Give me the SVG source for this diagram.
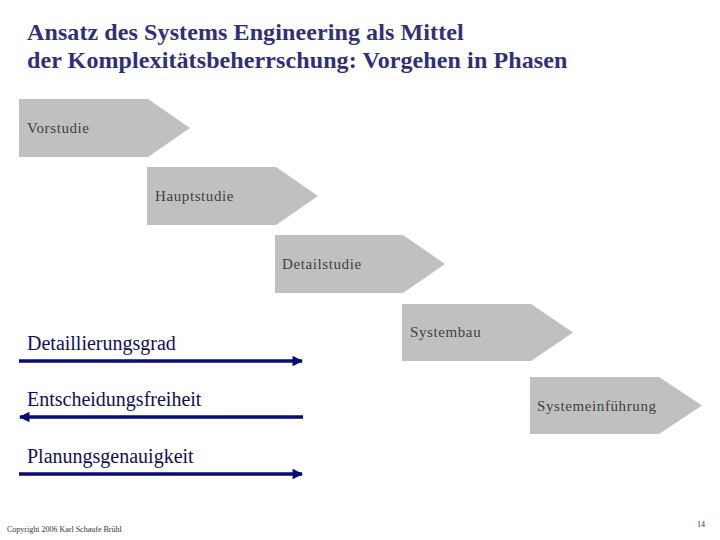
<svg xmlns="http://www.w3.org/2000/svg" width="720" height="540" viewBox="0 0 720 540">
<style>
.title{font-family:"Liberation Serif","DejaVu Serif",serif;font-weight:bold;font-size:24px;letter-spacing:0.1px;fill:#30307a}
.phase{fill:#c0c0c0}
.pt{font-family:"Liberation Serif","DejaVu Serif",serif;font-size:15px;letter-spacing:0.6px;fill:#404040}
.lbl{font-family:"Liberation Serif","DejaVu Serif",serif;font-size:20px;fill:#10105a}
.ln{stroke:#0a0a78;stroke-width:3.5;fill:none}
.small{font-family:"Liberation Serif","DejaVu Serif",serif;font-size:8px;fill:#333}
</style>
<defs>
<marker id="ah" viewBox="0 0 10 10" refX="9" refY="5" markerWidth="3.2" markerHeight="3" orient="auto-start-reverse" markerUnits="strokeWidth">
<path d="M0,0 L10,5 L0,10 z" fill="#0a0a78"/>
</marker>
</defs>
<rect width="720" height="540" fill="#fff"/>
<text class="title" x="27" y="40">Ansatz des Systems Engineering als Mittel</text>
<text class="title" x="27" y="68">der Komplexitätsbeherrschung: Vorgehen in Phasen</text>
<g id="vorstudie"><path class="phase" d="M19,99 H148 L190,128 L148,157 H19 Z"/><text class="pt" x="27" y="133">Vorstudie</text></g>
<g id="hauptstudie"><path class="phase" d="M147,167 H276 L318,196 L276,225 H147 Z"/><text class="pt" x="155" y="201">Hauptstudie</text></g>
<g id="detailstudie"><path class="phase" d="M275,235 H403 L445,264 L403,293 H275 Z"/><text class="pt" x="282" y="269">Detailstudie</text></g>
<g id="systembau"><path class="phase" d="M402,304 H531 L573,332.5 L531,361 H402 Z"/><text class="pt" x="410" y="337">Systembau</text></g>
<g id="systemeinfuehrung"><path class="phase" d="M530,377 H659 L702,405.5 L659,434 H530 Z"/><text class="pt" x="537" y="411">Systemeinführung</text></g>
<g id="connectors">
<line class="ln" x1="19" y1="361" x2="302" y2="361" marker-end="url(#ah)"/>
<line class="ln" x1="20" y1="417" x2="303" y2="417" marker-start="url(#ah)"/>
<line class="ln" x1="19" y1="474" x2="302" y2="474" marker-end="url(#ah)"/>
</g>
<text class="lbl" x="27" y="350">Detaillierungsgrad</text>
<text class="lbl" x="27" y="406">Entscheidungsfreiheit</text>
<text class="lbl" x="27" y="463">Planungsgenauigkeit</text>
<text class="small" x="7" y="532">Copyright 2006 Karl Schaufe Brühl</text>
<text class="small" x="697" y="527" font-size="6">14</text>
</svg>
